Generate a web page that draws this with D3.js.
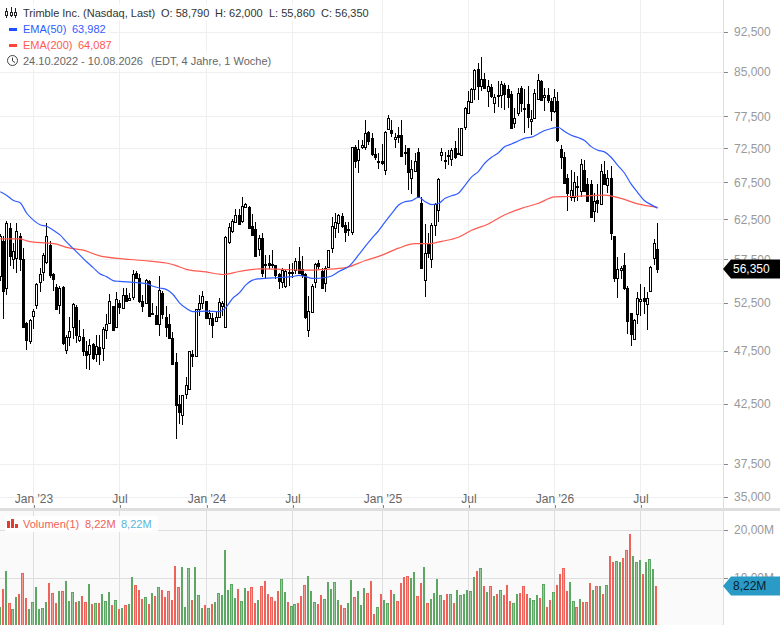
<!DOCTYPE html>
<html>
<head>
<meta charset="utf-8">
<title>Trimble Inc.</title>
<script src="https://cdn.jsdelivr.net/npm/d3@7"></script>
<style>
html, body { margin: 0; padding: 0; background: #fff; overflow: hidden; }
svg { display: block; font-family: "Liberation Sans", Arial, sans-serif; }
</style>
</head>
<body>
<div id="chart"></div>
<script>
// weekly candles, 24.10.2022 - 10.08.2026
var open = [55.5,59.7,54.1,61.4,57.5,57.7,60.4,57.5,50.3,48.5,
  51.1,52.3,54.8,56.0,57.2,59.3,55.8,54.3,52.3,54.3,
  47.6,48.9,49.9,52.0,48.6,48.9,47.5,47.2,48.2,47.2,
  47.9,47.8,49.6,50.3,52.1,49.9,52.5,51.9,53.4,52.85,
  53.1,55.9,55.3,52.7,52.5,55.0,51.35,51.2,50.25,53.55,
  50.95,50.2,48.8,46.4,42.5,41.5,43.4,43.85,47.2,47.0,
  51.8,52.5,52.65,50.85,50.9,50.5,50.95,52.1,49.9,59.6,
  61.0,62.2,63.1,62.3,64.1,64.1,61.7,61.2,58.75,60.1,
  56.9,57.1,56.9,56.8,55.7,54.85,54.4,56.0,55.95,56.2,
  57.3,56.3,55.7,49.65,51.55,54.8,57.05,56.1,54.7,56.6,
  58.9,61.4,62.0,63.0,61.75,61.2,60.85,72.75,70.8,72.65,
  72.65,75.0,74.05,71.6,70.55,70.65,69.3,75.45,75.25,73.9,
  74.6,74.6,71.9,72.5,68.1,69.2,71.9,64.65,55.05,59.4,
  57.5,61.8,63.75,71.5,70.75,71.45,70.9,72.5,71.75,71.5,
  75.75,78.1,79.8,82.1,85.5,82.6,83.85,81.7,82.45,79.7,
  81.0,80.95,82.7,82.1,81.15,76.45,78.1,82.3,78.85,79.5,
  76.8,77.15,80.4,83.45,80.75,80.95,80.0,78.3,80.1,72.35,
  71.25,68.1,65.55,65.45,67.0,66.25,69.3,67.25,67.25,63.65,
  65.05,64.55,68.65,67.15,68.1,60.35,55.25,56.2,56.8,54.2,
  51.35,48.7,51.25,52.7,53.05,52.35,53.8,57.6,58.79];
var close = [60.3,53.8,62.0,57.9,58.5,61.0,57.5,49.9,48.6,50.6,
  51.6,54.6,55.8,58.0,60.4,55.6,55.2,51.8,54.1,48.3,
  48.9,49.5,52.4,49.1,49.0,47.5,47.1,48.1,46.8,48.0,
  47.2,49.7,50.2,52.7,49.6,52.9,52.05,53.4,52.7,53.0,
  55.8,55.3,52.75,52.15,55.1,51.05,51.4,50.25,53.9,51.3,
  49.9,48.8,46.2,42.4,41.8,43.3,44.2,47.45,47.0,51.8,
  52.5,53.2,50.85,51.35,50.1,51.0,52.55,52.5,60.25,61.5,
  62.3,63.05,61.9,64.3,64.5,61.4,60.45,57.9,60.1,55.9,
  56.85,56.85,56.85,55.6,55.0,56.2,56.15,55.95,56.0,57.25,
  55.9,55.6,50.95,51.65,54.4,56.95,56.65,54.2,56.5,58.6,
  61.6,62.15,63.1,61.65,60.85,61.3,72.65,70.65,72.35,73.0,
  74.8,73.55,71.6,71.2,70.6,70.3,75.0,77.3,74.8,74.3,
  74.15,71.4,71.85,69.0,69.4,70.65,65.45,56.5,58.25,58.25,
  61.8,64.55,68.05,71.9,70.7,71.4,72.25,71.2,71.8,75.6,
  78.8,80.0,82.1,85.3,82.6,83.85,82.3,82.6,80.85,80.75,
  80.95,82.85,81.15,80.65,75.6,77.25,81.4,79.7,78.8,77.4,
  77.0,81.4,83.6,80.25,80.95,80.15,78.3,80.75,73.8,71.15,
  67.45,66.1,66.45,67.5,66.85,70.15,66.35,64.9,62.85,65.0,
  64.65,69.2,67.25,68.1,60.75,55.25,56.3,56.45,54.2,50.5,
  49.2,50.7,53.05,52.9,52.7,53.0,56.6,59.5,56.35];
var high = [60.6,60.3,62.3,62.0,59.5,62.0,60.8,58.9,50.4,50.8,
  51.8,54.7,56.5,58.25,62.0,59.7,55.9,54.6,54.4,54.4,
  49.1,51.0,52.5,52.3,50.6,49.7,48.5,48.7,48.3,49.1,
  49.1,49.9,51.3,53.5,52.1,53.7,52.85,54.2,54.2,53.6,
  56.2,56.1,55.7,53.4,55.2,55.1,52.5,52.2,55.5,53.8,
  52.15,51.3,49.4,47.3,43.3,43.3,45.0,47.5,47.6,51.8,
  53.4,53.8,52.75,51.7,51.45,51.6,53.0,52.7,60.3,62.0,
  62.5,63.9,63.9,65.5,64.65,64.2,63.2,62.2,60.55,60.75,
  58.05,58.05,58.65,56.85,55.9,56.5,56.3,56.95,57.05,57.6,
  58.95,57.85,55.9,53.25,54.6,57.05,57.4,56.5,56.65,58.65,
  62.75,63.3,63.2,63.3,62.2,62.2,72.65,73.0,73.75,73.75,
  76.9,75.1,74.9,72.5,71.75,73.2,75.1,77.65,76.9,74.8,
  75.85,76.9,73.0,72.6,70.8,71.75,72.5,65.55,61.9,60.75,
  62.0,64.65,68.15,72.5,72.0,72.25,72.5,73.55,75.6,75.7,
  79.1,81.7,82.3,85.5,86.65,87.75,84.9,83.6,82.85,81.15,
  83.45,83.45,83.15,82.7,81.7,78.8,82.3,82.6,82.0,82.6,
  78.55,82.0,84.6,83.6,82.3,82.3,80.55,82.0,81.55,73.0,
  72.0,68.7,69.3,69.05,68.35,70.9,70.8,68.1,67.85,66.0,
  67.35,70.15,70.65,69.3,69.85,60.4,57.75,56.75,58.25,54.4,
  51.45,50.8,53.65,54.6,54.3,53.65,56.65,59.95,62.0];
var low = [55.0,50.8,53.4,56.7,56.4,55.9,56.1,49.8,47.6,48.2,
  49.7,51.8,53.7,55.0,56.9,55.3,53.8,51.7,51.3,48.1,
  47.2,48.0,48.7,48.3,48.4,47.0,45.7,45.6,46.6,46.4,
  46.1,46.5,48.7,50.2,49.6,49.8,51.3,51.8,52.6,52.7,
  52.8,55.15,52.5,51.5,52.4,51.0,51.3,50.15,49.0,50.8,
  48.9,48.7,46.1,39.5,40.8,40.7,42.95,43.8,45.9,46.9,
  51.1,51.8,50.8,50.1,48.8,50.4,50.9,51.1,49.8,59.4,
  60.75,62.1,61.8,62.0,64.0,61.35,60.3,57.75,57.85,55.45,
  55.35,56.3,56.5,55.15,54.0,54.2,54.2,54.4,55.35,55.7,
  55.7,55.35,50.8,48.9,51.5,54.2,56.3,54.1,53.7,56.5,
  58.25,60.1,60.75,61.35,59.6,60.3,60.55,69.55,68.9,72.35,
  72.25,73.0,71.3,70.7,69.4,70.05,68.6,75.35,74.2,72.5,
  73.3,71.3,70.05,66.45,65.9,69.05,65.35,56.3,53.1,57.65,
  56.5,60.4,62.1,70.55,69.4,70.05,69.8,70.9,71.5,71.35,
  75.3,78.0,79.7,80.25,80.25,81.7,82.0,79.0,80.55,78.0,
  79.1,78.8,78.55,78.8,75.5,75.6,77.55,78.25,74.9,75.6,
  74.55,77.0,80.25,80.1,78.35,79.7,76.8,78.0,73.5,69.4,
  67.35,63.55,64.9,64.75,64.9,65.55,66.25,64.75,62.7,62.1,
  63.3,64.45,67.15,66.0,59.9,54.8,53.0,55.15,53.95,49.15,
  48.0,48.65,50.2,51.1,51.3,49.65,53.75,56.85,55.86];
// volume in millions
var volume = [3.7,7.6,11.4,4.6,3.4,5.8,6.5,10.9,5.7,3.4,
  4.8,8.0,3.4,3.6,4.9,8.9,6.7,4.6,7.2,7.2,
  9.3,5.1,7.0,4.9,5.1,6.1,4.9,8.7,4.4,4.6,
  4.6,6.5,5.1,7.0,4.2,5.3,3.4,3.6,4.2,4.4,
  10.1,8.5,7.4,5.5,5.9,4.4,6.8,6.1,8.0,7.4,
  5.9,7.2,5.3,12.5,8.0,12.3,3.8,12.0,5.3,12.3,
  6.3,3.6,4.2,3.6,4.4,4.9,6.7,6.3,15.8,7.4,
  8.7,5.7,7.6,5.1,7.8,7.2,8.0,4.6,5.3,8.2,
  9.3,6.5,5.9,5.1,7.2,9.7,7.0,4.9,4.0,4.4,
  4.6,6.1,8.5,10.4,7.2,4.9,4.4,6.3,5.5,9.1,
  7.6,9.1,5.3,4.2,3.6,4.6,9.5,5.9,7.2,4.2,
  7.8,6.8,9.3,2.3,3.8,6.5,5.3,4.6,7.4,6.5,
  5.1,8.9,10.1,10.4,9.9,11.2,6.1,8.9,12.3,4.6,
  5.5,6.8,9.7,6.3,5.3,6.5,6.5,4.6,7.4,6.3,
  6.5,7.4,7.2,10.1,11.4,12.0,8.2,7.0,8.2,6.1,
  6.5,7.4,6.3,8.5,5.1,4.6,6.5,6.8,8.2,6.5,
  5.7,5.3,6.3,5.7,8.7,3.8,5.3,7.0,8.5,10.8,
  12.0,7.2,9.1,5.1,3.8,5.5,4.9,4.9,8.9,7.4,
  8.2,8.2,6.5,8.5,14.6,13.3,13.5,13.3,14.2,15.8,
  19.2,14.6,13.3,13.7,10.8,13.3,13.9,11.8,8.22];

var ema50Idx = [0,2,4,6,8,10,12,14,16,18,20,22,24,26,28,30,32,34,36,40,44,46,48,50,52,54,56,58,62,66,68,70,72,74,76,78,84,88,90,92,94,98,100,102,105,108,110,112,114,116,118,120,122,124,126,128,130,132,134,136,138,140,142,144,146,148,150,152,154,156,158,160,162,164,166,168,170,172,174,176,178,180,182,184,186,188,190,192,194,196,198];
var ema50 = [66.2,65.7,65.0,64.7,63.3,62.4,61.8,61.6,61.1,60.5,59.6,58.8,58.0,57.2,56.5,55.8,55.45,55.0,54.9,54.8,54.65,54.35,54.15,54.0,53.45,52.5,51.9,51.55,51.6,51.55,52.0,53.0,53.6,54.5,55.05,55.2,55.35,55.45,55.6,55.45,55.25,55.35,55.55,56.05,56.65,58.05,59.1,60.1,61.05,62.2,63.3,64.4,64.85,65.0,65.45,64.85,64.45,64.6,65.3,65.65,66.0,67.1,68.3,69.05,70.3,71.15,71.8,72.75,73.15,73.6,74.05,74.2,74.7,75.25,75.55,75.75,75.1,74.5,74.15,73.7,72.75,72.2,71.95,71.15,69.95,68.85,67.3,66.1,65.0,64.45,63.98];
var ema200Idx = [0,6,8,10,14,17,20,25,30,37,43,50,53,56,62,67,72,78,85,92,98,104,110,115,120,125,129,133,138,142,147,152,157,162,167,172,182,187,192,198];
var ema200 = [60.0,60.0,59.75,59.6,59.5,59.35,58.95,58.6,57.9,57.55,57.35,57.05,56.75,56.3,56.0,55.7,56.05,56.35,56.3,56.2,56.3,56.5,57.35,58.0,58.85,59.4,59.4,59.7,60.2,61.1,61.9,63.1,63.95,64.6,65.5,65.55,65.75,65.3,64.55,64.09];

var priceTicks = [35, 37.5, 42.5, 47.5, 52.5, 57.5, 62.5, 67.5, 72.5, 77.5, 85, 92.5];
var volumeTicks = [10, 20];
var timeIdx = [10, 36, 62, 88, 115, 141, 167, 193];
var timeLabels = ["Jan '23", "Jul", "Jan '24", "Jul", "Jan '25", "Jul", "Jan '26", "Jul"];

var lastPrice = 56.35;
var lastVolume = 8.22;

var width = 780;
var height = 625;
var plotRight = 723;

var deLocale = d3.formatLocale({decimal: ",", thousands: ".", grouping: [3], currency: ["", "€"]});
var priceFormat = deLocale.format(".3f");
var volumeFormat = function(d) { return deLocale.format(".2f")(d) + "M"; };

var svg = d3.select("#chart").append("svg")
    .attr("width", width)
    .attr("height", height);

var x = d3.scaleLinear().domain([0, 198]).range([0.2, 657.6]);
var xVol = d3.scaleLinear().domain([0, 198]).range([0, 656.9]);
var y = d3.scaleLog().domain([35, 92.5]).range([497, 31.6]);
var yVol = d3.scaleLinear().domain([0, 20]).range([625, 530]);

var px = function(i) { return Math.floor(x(i)); };

// volume pane background and divider
svg.append("rect").attr("x", 0).attr("y", 511).attr("width", plotRight).attr("height", 114).attr("fill", "#fafafa");
svg.append("rect").attr("x", 0).attr("y", 508).attr("width", width).attr("height", 3).attr("fill", "#dedede");

// grid
var grid = svg.append("g").attr("shape-rendering", "crispEdges");
grid.selectAll(".h").data(priceTicks).enter().append("line")
    .attr("x1", 0).attr("x2", plotRight)
    .attr("y1", function(d) { return Math.round(y(d)) + 0.5; })
    .attr("y2", function(d) { return Math.round(y(d)) + 0.5; })
    .attr("stroke", "#efefef");
grid.selectAll(".v").data(timeIdx).enter().append("line")
    .attr("x1", function(d) { return px(d) + 0.5; })
    .attr("x2", function(d) { return px(d) + 0.5; })
    .attr("y1", 0).attr("y2", 508)
    .attr("stroke", "#efefef");
grid.selectAll(".hv").data(volumeTicks).enter().append("line")
    .attr("x1", 0).attr("x2", plotRight)
    .attr("y1", function(d) { return Math.round(yVol(d)) + 0.5; })
    .attr("y2", function(d) { return Math.round(yVol(d)) + 0.5; })
    .attr("stroke", "#dedede");
grid.selectAll(".vv").data(timeIdx).enter().append("line")
    .attr("x1", function(d) { return px(d) + 0.5; })
    .attr("x2", function(d) { return px(d) + 0.5; })
    .attr("y1", 511).attr("y2", 625)
    .attr("stroke", "#dedede");

// volume bars, every third one comes out a pixel wider and shows its paler fill
var isUp = function(i) { return close[i] >= open[i]; };
var barEdges = function(i) {
    var left = Math.round(xVol(i) - 0.78) - 1;
    var right = Math.round(xVol(i) + 1.553) - 1;
    return [left, right];
};
svg.append("g").attr("shape-rendering", "crispEdges")
    .selectAll("rect").data(volume).enter().append("rect")
    .attr("x", function(d, i) { return barEdges(i)[0] + 0.5; })
    .attr("width", function(d, i) { return barEdges(i)[1] - barEdges(i)[0] - 1; })
    .attr("y", function(d) { return Math.round(yVol(d)) + 0.5; })
    .attr("height", function(d) { return 625 - Math.round(yVol(d)); })
    .attr("fill", function(d, i) { return isUp(i) ? "#97c99b" : "#f69a93"; })
    .attr("stroke", function(d, i) { return isUp(i) ? "#5ca763" : "#ee6259"; });

// candles
var candles = svg.append("g").attr("shape-rendering", "crispEdges")
    .selectAll("g").data(d3.range(open.length)).enter().append("g");
candles.append("line")
    .attr("x1", function(i) { return px(i) + 0.5; })
    .attr("x2", function(i) { return px(i) + 0.5; })
    .attr("y1", function(i) { return y(high[i]); })
    .attr("y2", function(i) { return y(low[i]); })
    .attr("stroke", "#000");
candles.append("rect")
    .attr("x", function(i) { return px(i) - 0.5; })
    .attr("width", 2)
    .attr("y", function(i) { return Math.round(y(Math.max(open[i], close[i]))) + 0.5; })
    .attr("height", function(i) {
        return Math.max(1, Math.round(y(Math.min(open[i], close[i]))) - Math.round(y(Math.max(open[i], close[i]))));
    })
    .attr("fill", function(i) { return isUp(i) ? "#fff" : "#000"; })
    .attr("stroke", "#000");

// moving averages
var lineOf = function(idx) {
    return d3.line()
        .x(function(d, i) { return x(idx[i]); })
        .y(function(d) { return y(d); })
        .curve(d3.curveMonotoneX);
};
svg.append("path").datum(ema200).attr("d", lineOf(ema200Idx))
    .attr("fill", "none").attr("stroke", "#ff5a4f").attr("stroke-width", 1.2);
svg.append("path").datum(ema50).attr("d", lineOf(ema50Idx))
    .attr("fill", "none").attr("stroke", "#2f5cff").attr("stroke-width", 1.2);

// axes
var styleAxis = function(g, color) {
    g.select(".domain").remove();
    g.selectAll("line").attr("stroke", "#888").attr("shape-rendering", "crispEdges");
    g.selectAll("text").attr("fill", color).attr("font-size", 12)
        .attr("font-family", '"Liberation Sans", Arial, sans-serif');
};
svg.append("line").attr("x1", plotRight + 0.5).attr("x2", plotRight + 0.5).attr("y1", 0).attr("y2", 625)
    .attr("stroke", "#dedede").attr("shape-rendering", "crispEdges");

svg.append("g").attr("transform", "translate(" + (plotRight + 1) + ",0)")
    .call(d3.axisRight(y).tickValues(priceTicks).tickFormat(priceFormat).tickSize(4).tickPadding(6))
    .call(styleAxis, "#999");
svg.append("g").attr("transform", "translate(" + (plotRight + 1) + ",0)")
    .call(d3.axisRight(yVol).tickValues(volumeTicks).tickFormat(volumeFormat).tickSize(4).tickPadding(6))
    .call(styleAxis, "#999");
svg.append("g").attr("transform", "translate(0.5,508)")
    .call(d3.axisTop(d3.scaleLinear().domain([0, width]).range([0, width]))
        .tickValues(timeIdx.map(function(d) { return px(d); }))
        .tickFormat(function(d, i) { return timeLabels[i]; })
        .tickSize(3).tickPadding(2))
    .call(styleAxis, "#666");

// last value tags
var tag = function(cy, h, fill, textColor, label) {
    var g = svg.append("g");
    g.append("path")
        .attr("d", "M" + plotRight + "," + cy + "L" + (plotRight + 8) + "," + (cy - h / 2) +
            "L" + width + "," + (cy - h / 2) + "L" + width + "," + (cy + h / 2) +
            "L" + (plotRight + 8) + "," + (cy + h / 2) + "Z")
        .attr("fill", fill);
    g.append("text").attr("x", plotRight + 10).attr("y", cy + 4.5)
        .attr("font-size", 12).attr("fill", textColor).text(label);
};
tag(y(lastPrice), 19, "#000", "#fff", priceFormat(lastPrice));
tag(yVol(lastVolume), 19, "#2a9ac6", "#06222e", volumeFormat(lastVolume));

// legend
var legendRows = [
    {y: 12.5, w: 372, parts: [
        {x: 23, t: "Trimble Inc. (Nasdaq, Last)", c: "#333"},
        {x: 161, t: "O: 58,790", c: "#333"},
        {x: 215, t: "H: 62,000", c: "#333"},
        {x: 269, t: "L: 55,860", c: "#333"},
        {x: 321, t: "C: 56,350", c: "#333"}]},
    {y: 28.5, w: 110, parts: [
        {x: 23, t: "EMA(50)", c: "#2f5cff"},
        {x: 72, t: "63,982", c: "#2f5cff"}]},
    {y: 44.5, w: 116, parts: [
        {x: 23, t: "EMA(200)", c: "#ff5a4f"},
        {x: 78, t: "64,087", c: "#ff5a4f"}]},
    {y: 60.5, w: 278, parts: [
        {x: 23, t: "24.10.2022 - 10.08.2026", c: "#666"},
        {x: 151, t: "(EDT, 4 Jahre, 1 Woche)", c: "#666"}]}
];
var legend = svg.append("g");
legendRows.forEach(function(row) {
    legend.append("rect").attr("x", 0).attr("y", row.y - 8).attr("width", row.w).attr("height", 16)
        .attr("fill", "#fff").attr("fill-opacity", 0.85);
    row.parts.forEach(function(p) {
        legend.append("text").attr("x", p.x).attr("y", row.y + 4).attr("font-size", 11)
            .attr("fill", p.c).text(p.t);
    });
});

// legend icons
var icons = legend.append("g").attr("shape-rendering", "crispEdges");
icons.append("path")
    .attr("d", "M6.5,8V18M11.5,7V17M15.5,8V18")
    .attr("stroke", "#222").attr("fill", "none");
icons.selectAll("rect").data([[5.5, 11.5, 2, 4], [10.5, 12.5, 2, 3], [14.5, 12.5, 2, 3]]).enter().append("rect")
    .attr("x", function(d) { return d[0]; }).attr("y", function(d) { return d[1]; })
    .attr("width", function(d) { return d[2]; }).attr("height", function(d) { return d[3]; })
    .attr("fill", "#fff").attr("stroke", "#222");
legend.append("rect").attr("x", 9).attr("y", 28).attr("width", 8).attr("height", 3).attr("fill", "#1f4fff");
legend.append("rect").attr("x", 9).attr("y", 44).attr("width", 8).attr("height", 3).attr("fill", "#ff4438");
legend.append("circle").attr("cx", 12.5).attr("cy", 60.5).attr("r", 5).attr("fill", "none").attr("stroke", "#444");
legend.append("path").attr("d", "M12.5,57.5V61L15,62.5").attr("fill", "none").attr("stroke", "#444");

// volume legend
var volLegend = svg.append("g");
volLegend.append("rect").attr("x", 5).attr("y", 516).attr("width", 153).attr("height", 16)
    .attr("fill", "#fff").attr("fill-opacity", 0.9);
volLegend.selectAll(".b").data([[7, 521, 3, 7], [11, 519, 3, 9], [15, 524, 3, 4]]).enter().append("rect")
    .attr("x", function(d) { return d[0]; }).attr("y", function(d) { return d[1]; })
    .attr("width", function(d) { return d[2]; }).attr("height", function(d) { return d[3]; })
    .attr("fill", "#e53a30");
[[23, "Volumen(1)", "#ee6259"], [85, "8,22M", "#ee6259"], [121, "8,22M", "#5ab4dc"]].forEach(function(p) {
    volLegend.append("text").attr("x", p[0]).attr("y", 528).attr("font-size", 11)
        .attr("fill", p[2]).text(p[1]);
});
</script>
</body>
</html>
